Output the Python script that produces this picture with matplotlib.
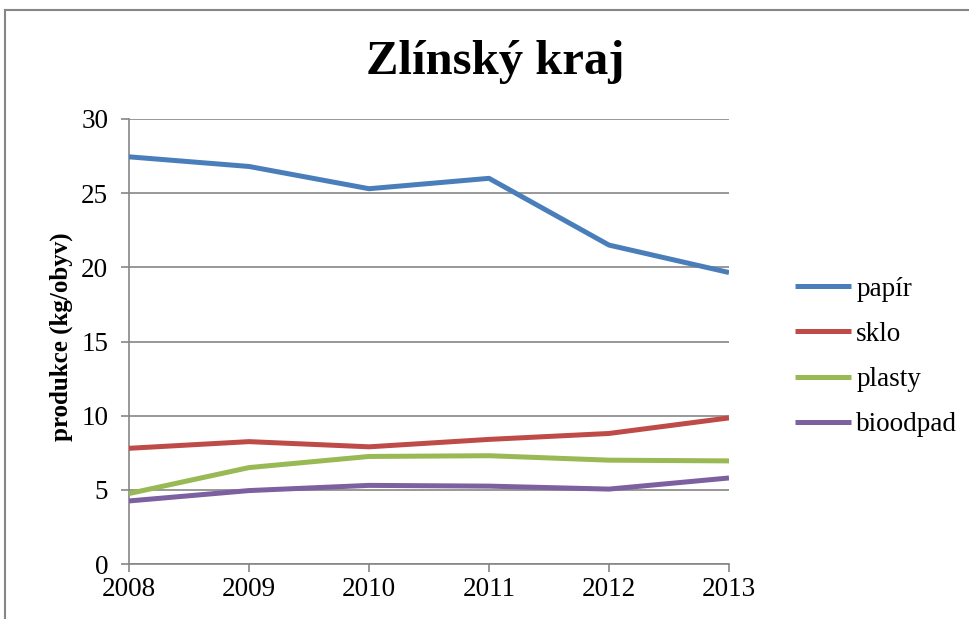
import matplotlib.pyplot as plt
from matplotlib.lines import Line2D

years = ["2008", "2009", "2010", "2011", "2012", "2013"]
papir = [27.45, 26.8, 25.3, 26.0, 21.5, 19.65]
sklo = [7.8, 8.25, 7.9, 8.4, 8.8, 9.85]
plasty = [4.75, 6.5, 7.25, 7.3, 7.0, 6.95]
bioodpad = [4.25, 4.95, 5.3, 5.25, 5.05, 5.8]

series = [("papír", papir, "#4a7ebb"),
          ("sklo", sklo, "#be4b48"),
          ("plasty", plasty, "#98b954"),
          ("bioodpad", bioodpad, "#7d60a0")]

plt.rcParams['font.family'] = ['Liberation Serif', 'DejaVu Serif']

fig = plt.figure(figsize=(9.69, 6.19), dpi=100)
ax = fig.add_axes([129/969, 1-564/619, 600/969, 445/619])

x = range(len(years))
for name, vals, col in series:
    ax.plot(x, vals, color=col, lw=3.6, label=name, solid_capstyle='butt', zorder=3)

ax.set_xlim(0, len(years)-1)
ax.set_ylim(0, 30)
ax.set_yticks(range(0, 31, 5))
ax.set_xticks(list(x))
ax.set_xticklabels(years)
ax.grid(axis='y', color='#868686', lw=1.2, zorder=1)
ax.tick_params(colors='#868686', labelcolor='black', labelsize=19.5, length=6, width=1.2)
ax.tick_params(axis='y', pad=9)
ax.tick_params(axis='x', pad=3)
for s in ['top', 'right']:
    ax.spines[s].set_visible(False)
for s in ['left', 'bottom']:
    ax.spines[s].set_color('#868686')
    ax.spines[s].set_linewidth(1.2)
ax.set_ylabel("produkce (kg/obyv)", fontsize=18, fontweight='bold')
ax.yaxis.set_label_coords(-56/600, 0.51)

fig.text(495/969, 1-62/619, "Zlínský kraj", ha='center', va='center',
         fontsize=35, fontweight='bold')

ax.legend(loc='center left', bbox_to_anchor=(771/969, 1-357/619),
          bbox_transform=fig.transFigure, frameon=False, fontsize=19.5,
          handlelength=2.05, handletextpad=0.2, labelspacing=0.75)

# outer chart border
fig.add_artist(Line2D([5/969, 5/969], [0, 1-10/619], transform=fig.transFigure,
                      color='#868686', lw=1.5))
fig.add_artist(Line2D([5/969, 1], [1-10/619, 1-10/619], transform=fig.transFigure,
                      color='#868686', lw=1.5))

fig.savefig("out.png", dpi=100)
